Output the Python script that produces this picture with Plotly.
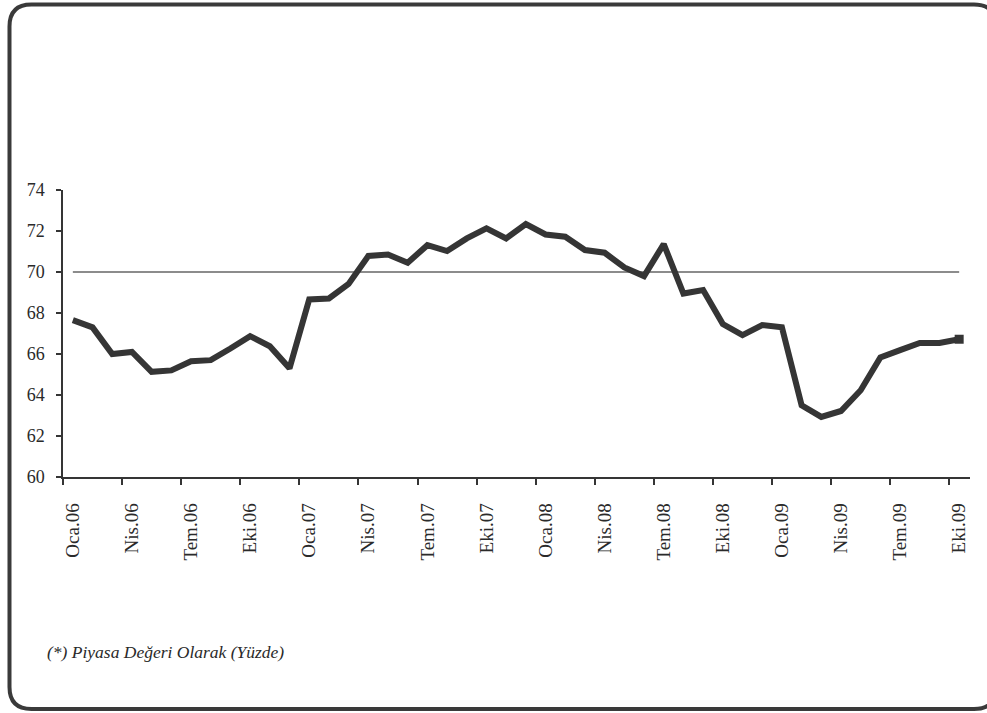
import plotly.graph_objects as go

# Monthly share series, Ocak 2006 - Ekim 2009 (46 months)
months = [
    "Oca.06", "Şub.06", "Mar.06", "Nis.06", "May.06", "Haz.06", "Tem.06", "Ağu.06", "Eyl.06", "Eki.06", "Kas.06", "Ara.06",
    "Oca.07", "Şub.07", "Mar.07", "Nis.07", "May.07", "Haz.07", "Tem.07", "Ağu.07", "Eyl.07", "Eki.07", "Kas.07", "Ara.07",
    "Oca.08", "Şub.08", "Mar.08", "Nis.08", "May.08", "Haz.08", "Tem.08", "Ağu.08", "Eyl.08", "Eki.08", "Kas.08", "Ara.08",
    "Oca.09", "Şub.09", "Mar.09", "Nis.09", "May.09", "Haz.09", "Tem.09", "Ağu.09", "Eyl.09", "Eki.09",
]
share = [
    67.65, 67.3, 66.0, 66.1, 65.13, 65.2, 65.65, 65.7, 66.27, 66.87, 66.38, 65.3,
    68.66, 68.71, 69.42, 70.78, 70.85, 70.45, 71.31, 71.02, 71.64, 72.13, 71.64, 72.34,
    71.83, 71.72, 71.07, 70.94, 70.22, 69.8, 71.36, 68.95, 69.12, 67.46, 66.92, 67.41,
    67.3, 63.5, 62.93, 63.22, 64.23, 65.83, 66.19, 66.54, 66.54, 66.72,
]
reference_level = [70.0] * len(months)

y_ticks = [60, 62, 64, 66, 68, 70, 72, 74]
label_step = 3

idx = list(range(len(months)))
label_pos = idx[::label_step]
label_text = [months[i] for i in label_pos]
boundary_pos = [i - 0.5 for i in label_pos]

serif = "Liberation Serif, Times New Roman, serif"
ink = "#353535"

fig = go.Figure()
fig.add_trace(go.Scatter(
    x=idx, y=reference_level, mode="lines",
    line=dict(color="#8c8c8c", width=2), hoverinfo="skip", showlegend=False,
))
fig.add_trace(go.Scatter(
    x=idx, y=share, mode="lines",
    line=dict(color=ink, width=6), showlegend=False,
))
fig.add_trace(go.Scatter(
    x=[idx[-1]], y=[share[-1]], mode="markers",
    marker=dict(symbol="square", size=9, color=ink), showlegend=False,
))

W, H = 987, 713
ml, mr, mt, mb = 63, 17, 190, 236
pw, ph = W - ml - mr, H - mt - mb


def px(x):
    return (x - ml) / pw


def py(y):
    return (H - mb - y) / ph


# rounded frame around the whole graphic
L, T, R, B, r = 9.5, 4.5, 996, 709, 22
pts = [
    ("M", L + r, T), ("L", R - r, T), ("Q", R, T, R, T + r), ("L", R, B - r),
    ("Q", R, B, R - r, B), ("L", L + r, B), ("Q", L, B, L, B - r), ("L", L, T + r),
    ("Q", L, T, L + r, T),
]
path = ""
for p in pts:
    if p[0] == "Q":
        path += f"Q {px(p[1]):.5f},{py(p[2]):.5f} {px(p[3]):.5f},{py(p[4]):.5f} "
    else:
        path += f"{p[0]} {px(p[1]):.5f},{py(p[2]):.5f} "
path += "Z"
fig.add_shape(type="path", path=path, xref="paper", yref="paper",
              line=dict(color="#3a3a3a", width=4), layer="above")

fig.add_annotation(
    text="<i>(*) Piyasa Değeri Olarak (Yüzde)</i>",
    xref="paper", yref="paper", x=px(45), y=py(652),
    xanchor="left", yanchor="middle", showarrow=False,
    font=dict(family=serif, size=17.5, color="#2a2a2a"),
)

fig.update_layout(
    width=W, height=H,
    margin=dict(l=ml, r=mr, t=mt, b=mb),
    paper_bgcolor="white", plot_bgcolor="white",
    xaxis=dict(
        range=[-0.5, 45.55], showgrid=False, zeroline=False,
        showline=True, linecolor=ink, linewidth=1.5,
        tickmode="array", tickvals=label_pos, ticktext=label_text,
        ticks="", tickangle=-90, ticklabelstandoff=17,
        tickfont=dict(family=serif, size=19, color="#2a2a2a"),
        minor=dict(tickmode="array", tickvals=boundary_pos, ticks="outside",
                   ticklen=6, tickwidth=1.5, tickcolor=ink, showgrid=False),
    ),
    yaxis=dict(
        range=[60, 74], showgrid=False, zeroline=False,
        showline=True, linecolor=ink, linewidth=1.5,
        tickmode="array", tickvals=y_ticks,
        ticks="outside", ticklen=5, tickwidth=1.5, tickcolor=ink,
        ticklabelstandoff=8,
        tickfont=dict(family=serif, size=18, color="#2a2a2a"),
    ),
)

fig.write_html("out.html")
